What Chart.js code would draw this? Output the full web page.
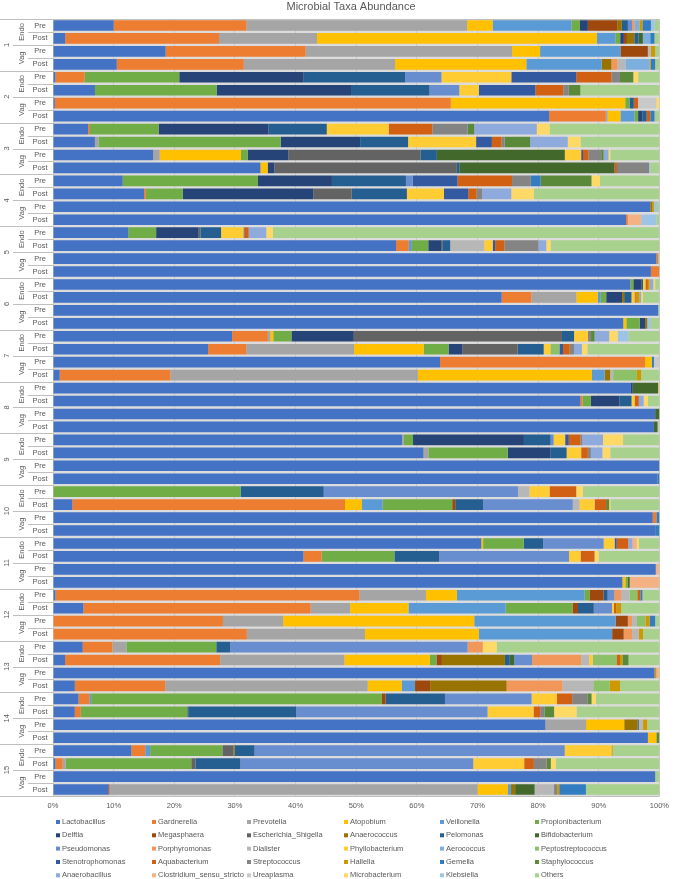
<!DOCTYPE html>
<html>
<head>
<meta charset="utf-8">
<title>Microbial Taxa Abundance</title>
<script src="https://cdn.jsdelivr.net/npm/chart.js@4"></script>
<style>
  html, body { margin: 0; padding: 0; background: #fff; }
  canvas { display: block; }
</style>
</head>
<body>
<canvas id="chart" width="674" height="879"></canvas>
<script>
// category levels (patient > site > time)
const patients = ['1','2','3','4','5','6','7','8','9','10','11','12','13','14','15'];
const sites = ['Endo', 'Vag'];
const times = ['Pre', 'Post'];

// relative abundance (%), 4 bars per patient: Endo Pre, Endo Post, Vag Pre, Vag Post
const lactobacillus = [10,2,18.5,10.5, 0.4,6.9,0.3,81.5, 5.8,6.9,16.5,34.2, 11.5,15,98.4,94.4, 12.4,56.4,99.5,98.6, 95.1,73.8,99.8,93.9, 29.6,25.6,63.6,1.1, 95.3,87,99.3,99.1, 57.6,61.1,100,99.7, 0,3.2,98.9,99.3, 70.7,41.3,99.4,93.9, 0.4,5,0,0, 4.9,2,99.2,3.6, 4.2,3.6,81.2,98.1, 12.9,0.4,99.3,9.2];
const gardnerella = [21.9,25.1,23,20.9, 4.8,0,64.9,9.3, 0.3,0,0,0, 0,0.3,0,0.3, 0,2.1,0.3,1.4, 0,4.9,0,0, 5.9,6.3,33.7,18.2, 0,0.35,0,0, 0,0,0,0, 0,45,0.6,0, 0,3,0,0, 50.2,37.4,28,32, 4.9,25.6,0,14.9, 1.8,1,0,0, 2.3,1.2,0,0.2];
const prevotella = [36.4,16,33.9,24.9, 0,0,0,0.3, 0,0.6,1.1,0, 0,0,0,0, 0,0,0,0, 0,7.4,0,0, 0.4,17.8,0,40.7, 0,0,0,0, 0.3,0.8,0,0, 0,0,0,0, 0,0,0,0, 11,6.5,9.9,19.5, 2.3,20.5,0,33.4, 0,0,6.7,0, 0,0.5,0,60.5];
const atopobium = [4.2,45.7,4.6,21.6, 0,0,28.6,2.1, 0,0,13.4,1.2, 0,0,0,0, 0,0,0,0, 0,3.5,0,0.5, 0.5,11.5,1.1,28.6, 0,0,0,0, 0,0,0,0, 0,2.8,0,0, 0.3,0,0,0.5, 5.1,9.6,31.5,18.8, 0,14.1,0,5.6, 0,0,6.3,1.4, 0,0,0,5];
const veillonella = [13,3,13.2,12.4, 0,0,0,2.3, 0,0,0,0, 0,0,0,0, 0,0.5,0,0, 0,0.5,0,0, 0,0,0,2.1, 0,0,0,0, 0,0,0,0, 0,3.4,0,0, 0,0,0,0, 21.1,16,23.3,22, 0,0,0,2.2, 0.3,0,0,0, 0.8,0,0,0.5];
const propionibacterium = [1.4,0.8,0,0, 15.6,20,0.7,0.6, 11.3,30,1.1,0, 22.3,6.1,0,0, 4.6,2.7,0,0, 0.5,0.9,0,2.2, 3,4.1,0,0, 0,1.4,0,0, 1.5,13.1,0,0, 30.9,11.5,0,0, 6.7,12,0,0.35, 0.8,11,0,0, 14.8,1.1,0,0, 48,17.6,0,0, 11.9,20.7,0,0];
const delftia = [1.3,0.6,0,0, 20.5,22.1,0,0.7, 18.1,13.1,6.7,1.1, 12.2,21.5,0,0, 7,2.1,0,0, 1.3,2.6,0,0.9, 10.3,2.3,0,0, 0.3,4.7,0,0, 18.3,7,0,0, 0,0,0,0, 0,0,0,0, 0,0,0,0, 0,0,0,0, 0,0.2,0,0, 0,0,0,0];
const megasphaera = [4.9,0.5,4.5,0, 0,0,0,0, 0,0,0,0, 0,0,0,0, 0,0,0,0, 0,0,0,0, 0,0,0,0, 0,0,0,0, 0,0,0,0, 0,0.5,0,0, 0,0,0,0, 2.3,0.9,2,1.9, 0,0.9,0,2.5, 0.6,0,0,0, 0,0,0,0];
const escherichia = [0,0,0,0, 0,0,0,0, 0,0,21.8,30.1, 0,6.3,0,0, 0.3,0.2,0,0, 0,0,0,0, 34.4,9.1,0,0, 0,0,0,0, 0,0,0,0, 0,0,0,0, 0,0,0,0, 0,0,0,0, 0,0,0,0, 0,0,0,0, 1.8,0.7,0,0];
const anaerococcus = [0.7,1.2,0,1.6, 0,0,0,0, 0,0,0,0, 0,0,0.3,0, 0,0,0,0, 0,0.35,0,0.35, 0,0,0,0.9, 0,0,0,0, 0,0,0,0, 0,0,0,0, 0,0,0,0, 0,0,0,0, 0,10.4,0,12.6, 0,0,2.2,0, 0.2,0,0,0.7];
const pelomonas = [1,0.7,0,0, 16.7,12.9,0.7,0.7, 9.6,7.9,2.7,0.4, 12.2,9.1,0,0, 3.4,1.3,0,0, 0.3,1.2,0,0, 2,4.3,0,0, 0,2,0,0, 4.4,2.7,0,0, 13.7,4.6,0,0, 3.2,7.4,0,0, 0.7,2.6,0,0, 2.3,0.8,0,0, 9.8,17.8,0.2,0, 3.3,7.4,0,0];
const bifidobacterium = [0,0.7,0,0, 0,0,0,0, 0,0,21.1,25.6, 0,0,0,0, 0,0,0,0, 0,0,0,0, 0,0,0,0, 4.2,0,0.7,0.6, 0,0,0,0, 0,0,0,0, 0,0,0,0.35, 0,0,0,0, 0,0.7,0,0, 0,0,0,0, 0,0,0,3.2];
const pseudomonas = [0.7,0,0,0, 6,4.9,0,0, 0,0,0,0, 1.1,0,0,0, 0,0,0,0, 0,0,0,0, 0,0,0,0, 0,0,0,0, 0.5,0,0,0, 32,14.8,0,0, 10,21.4,0,0, 1.1,3,0,0, 39.1,3,0,0, 14.3,31.6,0,0, 51.1,38.4,0,0];
const porphyromonas = [0.4,0,0,1, 0,0,0,0, 0,0,0,0, 0,0,0,0, 0,0,0,0, 0,0,0,0, 0,0,0,0, 0,0,0,0, 0,0,0,0, 0,0,0,0, 0,0,0,0, 1.1,0,0.7,1.4, 2.5,8.1,0,9.2, 0,0,0,0, 0,0,0,0];
const dialister = [0,0,0.5,1.3, 0,0,0,0, 0,0,0,0, 0,0,0,0, 0,5.6,0,0, 0,0,0,0, 0,0,0,0.5, 0,0,0,0, 0,0,0,0, 1.9,1.1,0,0, 0,0,0,0, 1.4,0,0.8,1.1, 0,1.3,0,5.1, 0,0,0.7,0, 0,0,0,3.2];
const phyllobacterium = [0,0,0,0, 11.5,3.2,0,0, 10.2,11.2,2.7,0, 0,6.1,0,0, 3.7,1.4,0,0, 0.4,0.5,0,0, 2.3,1.1,0,0, 0,0.5,0,0, 1.9,2.4,0,0, 3.3,2.5,0,0, 1.8,1.9,0,0, 0,0.3,0,0, 0,0.6,0,0, 4.2,7.6,0,0, 7.7,8.4,0,0];
const aerococcus = [0.8,1.2,0,4, 0,0,0,0, 0,0,0,0, 0,0,0,0, 0,0,0,0, 0,0,0,0, 0,0,0,0, 0,0,0,0, 0,0,0,0, 0,0,0,0, 0,0,0,0, 0,0,0,0, 0,0,0,0, 0,0,0,0, 0,0,0,0];
const peptostreptococcus = [0,0,0,0, 0,0,0,0, 0,0,0,0, 0,0,0,0, 0,0,0,0, 0,0,0,0, 0,1.5,0,3.9, 0,0,0,0, 0,0,0,0, 0,0,0,0, 0,0,0,0, 1.3,0,1.4,0, 0,4,0,2.7, 0,0,0,0, 0,0,0,0];
const stenotrophomonas = [0,0,0,0, 10.7,9.3,0,0, 0,2.6,0.3,0, 7.4,4,0,0, 0.15,0.4,0,0, 0,0,0,0, 0,0.6,0,0, 0,0,0,0, 0.6,0,0,0, 0,0,0,0, 0.35,0,0,0, 0,0,0,0, 0,0,0,0, 0,0,0,0, 0,0,0,0];
const aquabacterium = [0,0,0,0, 5.8,4.6,0.7,0.6, 7.2,1.6,0.9,0.4, 9,1.4,0,0, 0.7,1.5,0,0, 0.4,0.2,0,0, 0,1.1,0,0, 0,0.7,0,0, 1.9,1.1,0,0, 4.4,1.9,0,0, 1.9,2.3,0,0, 0.5,0.4,0,0, 0,0.5,0,0, 2.5,1.1,0,0, 0,1.6,0,0];
const streptococcus = [0,0,0,0, 1.4,0.9,0,0, 5.8,0.5,2.1,5.3, 3.1,0.9,0,0, 0,5.6,0,0, 0,0,0,0, 0.5,0.7,0,0, 0,0,0,0, 0.35,0.5,0,0, 0,0,0,0, 0,0,0,0, 0,0,0,0, 0,0,0,0, 2.5,0.7,0,0, 0,2.1,0,0.5];
const hallella = [0.5,0,0.7,0.2, 0,0,0,0, 0,0,0,0, 0,0,0.3,0, 0,0,0,0, 0.3,0.6,0,0, 0,0,0,0.7, 0,0,0,0, 0,0,0,0, 0,0,0,0, 0,0,0,0, 0,0.8,0.7,0.7, 0,0.4,0.3,1.7, 0,0,0.7,0, 0.2,0,0,0.35];
const gemella = [1.4,0.7,0,0.7, 0,0,0,0.7, 0,0,0,0, 1.6,0,0,0, 0,0,0,0, 0,0,0,0, 0,0,0.35,0, 0,0,0,0, 0,0,0,0.3, 0,0,0.5,0.7, 0,0,0,0, 0.35,0,0.9,0, 0,0,0,0, 0,0,0,0, 0,0,0,4.4];
const staphylococcus = [0,0,0,0, 2.2,1.9,0,0, 1.1,4.2,0.4,0, 8.4,0,0,0, 0,0,0,0, 0,0,0,0, 0.6,0,0,0, 0,0,0,0, 0,0,0,0, 0,0.5,0,0, 0,0,0,0, 0,0,0,0, 0,1,0,0, 0.7,1.6,0,0.5, 0,0.7,0,0];
const anaerobacillus = [0,0,0,0, 0,0,0,0, 10.3,6.2,0.8,0, 0,4.8,0,0, 2.9,1.3,0,0, 0.6,0.3,0,0, 2.4,1.3,0,0, 0,0.8,0,0, 3.4,1.9,0,0, 0,0,0,0, 0.7,0,0,0, 0,0,0,0, 0,0,0,0, 0,0,0,0, 0,0,0,0];
const clostridium = [0,0,0,0, 0,0,0,0, 0,0,0,0, 0,0,0,2.2, 0,0,0,0, 0,0,0,0, 0,0,0,0, 0,0,0,0, 0,0,0,0, 0,0,0,0, 0.7,0,0.6,4.9, 0,0,0,0, 0,0,0.5,0, 0,0,0,0, 0,0,0,0];
const ureaplasma = [0,0,0,0, 0,0,3,0, 0,0,0,0, 0,0,0,0, 0,0,0,0, 0,0,0,0, 0,0,0.9,0, 0,0,0,0.3, 0,0,0,0, 0,0,0,0, 0,0,0,0, 0,0,0,0, 0,0,0,0, 0,0,0,0, 0,0,0,0];
const microbacterium = [0,0,0,0, 0.8,0,0.5,0, 2.1,2.1,0.3,0, 1.4,3.7,0,0, 1.1,0.7,0,0, 0.3,0.3,0,0, 1.4,0.9,0,0, 0.2,0.7,0,0, 3.3,1.3,0,0, 1.1,0.2,0,0, 0.35,0.7,0,0, 0,0,0,0, 2.3,0,0,0, 0.7,3.7,0,0, 0,0.8,0,0];
const klebsiella = [0.6,0,0,0, 0,0,0,0, 0,0,0,0.2, 0,0,0.5,2.5, 0,0,0,0, 0,0,0,0.6, 1.8,0,0,0, 0,0,0,0, 0,0,0,0, 0,0,0,0, 0,0,0,0, 0,0,0,0, 0,0,0,0, 0,0,0,0, 0,0,0,0];
const others = [0.8,0.8,0.7,0.7, 3.5,13,0,0.8, 18.1,13,8.1,1.5, 9.8,20.7,0.4,0.5, 63.7,17.9,0.2,0, 0.7,2.7,0.2,1.4, 5.1,11.9,0,3, 0,1.9,0,0, 6,8.1,0,0, 12.6,8.1,0,0, 3.4,10,0,0, 2.8,6.3,0.7,2.7, 26.8,5.1,0,6.5, 10.5,13.7,2,0, 7.7,17.1,0.7,12.1];

const taxa = [
  ['Lactobacillus', lactobacillus, '#4472C4'],
  ['Gardnerella', gardnerella, '#ED7D31'],
  ['Prevotella', prevotella, '#A5A5A5'],
  ['Atopobium', atopobium, '#FFC000'],
  ['Veillonella', veillonella, '#5B9BD5'],
  ['Propionibacterium', propionibacterium, '#70AD47'],
  ['Delftia', delftia, '#264478'],
  ['Megasphaera', megasphaera, '#9E480E'],
  ['Escherichia_Shigella', escherichia, '#636363'],
  ['Anaerococcus', anaerococcus, '#997300'],
  ['Pelomonas', pelomonas, '#255E91'],
  ['Bifidobacterium', bifidobacterium, '#43682B'],
  ['Pseudomonas', pseudomonas, '#698ED0'],
  ['Porphyromonas', porphyromonas, '#F1975A'],
  ['Dialister', dialister, '#B7B7B7'],
  ['Phyllobacterium', phyllobacterium, '#FFCD33'],
  ['Aerococcus', aerococcus, '#7CAFDD'],
  ['Peptostreptococcus', peptostreptococcus, '#8CC168'],
  ['Stenotrophomonas', stenotrophomonas, '#335AA1'],
  ['Aquabacterium', aquabacterium, '#D26012'],
  ['Streptococcus', streptococcus, '#848484'],
  ['Hallella', hallella, '#CC9A00'],
  ['Gemella', gemella, '#327DC2'],
  ['Staphylococcus', staphylococcus, '#5A8A39'],
  ['Anaerobacillus', anaerobacillus, '#8FAADC'],
  ['Clostridium_sensu_stricto', clostridium, '#F4B183'],
  ['Ureaplasma', ureaplasma, '#C9C9C9'],
  ['Microbacterium', microbacterium, '#FFD966'],
  ['Klebsiella', klebsiella, '#9DC3E6'],
  ['Others', others, '#A9D18E']
];

// one category per bar
const categories = [];
patients.forEach(p => sites.forEach(s => times.forEach(t => categories.push(p + ' ' + s + ' ' + t))));

// scale every bar to 100%
const totals = categories.map((c, i) => taxa.reduce((sum, t) => sum + t[1][i], 0));
const datasets = taxa.map(([name, values, color]) => ({
  label: name,
  data: values.map((v, i) => v / totals[i] * 100),
  backgroundColor: color,
  borderWidth: 0,
  barPercentage: 0.82,
  categoryPercentage: 1
}));

const FONT = '"Liberation Sans", Arial, sans-serif';
const TEXT = '#595959';
const LINE = '#bfbfbf';

// title, nested category labels, separators and legend
const decorations = {
  id: 'decorations',
  beforeDraw(chart) {
    const { ctx, chartArea: a } = chart;
    ctx.save();
    ctx.fillStyle = '#dcdcdc';
    ctx.fillRect(a.left, a.top, a.right - a.left, a.bottom - a.top);
    ctx.restore();
  },
  afterDraw(chart) {
    const { ctx, chartArea: a } = chart;
    const y = chart.scales.y;
    const step = y.getPixelForValue(1) - y.getPixelForValue(0);
    const edge = i => Math.round(y.getPixelForValue(i) - step / 2) + 0.5;

    ctx.save();
    ctx.fillStyle = TEXT;
    ctx.font = '11px ' + FONT;
    ctx.textAlign = 'center';
    ctx.textBaseline = 'middle';
    ctx.fillText('Microbial Taxa Abundance', 351, 7);

    ctx.strokeStyle = LINE;
    ctx.lineWidth = 1;
    const hline = (x0, yy) => { ctx.beginPath(); ctx.moveTo(x0, yy); ctx.lineTo(a.left, yy); ctx.stroke(); };
    ctx.beginPath(); ctx.moveTo(0, edge(0)); ctx.lineTo(a.right, edge(0)); ctx.stroke();
    ctx.beginPath(); ctx.moveTo(0, edge(categories.length)); ctx.lineTo(a.right, edge(categories.length)); ctx.stroke();

    ctx.font = '7.5px ' + FONT;
    categories.forEach((c, i) => {
      ctx.fillText(times[i % 2], 40, y.getPixelForValue(i));
      if (i === 0) return;
      if (i % 4 === 0) hline(0, edge(i));
      else if (i % 2 === 0) hline(13, edge(i));
      else hline(28, edge(i));
    });

    // rotated site and patient labels
    const rotated = (text, x, yy) => {
      ctx.save();
      ctx.translate(x, yy);
      ctx.rotate(-Math.PI / 2);
      ctx.fillText(text, 0, 0);
      ctx.restore();
    };
    patients.forEach((p, pi) => {
      const first = pi * 4;
      rotated(p, 7, (y.getPixelForValue(first) + y.getPixelForValue(first + 3)) / 2);
      sites.forEach((s, si) => {
        const k = first + si * 2;
        rotated(s, 22, (y.getPixelForValue(k) + y.getPixelForValue(k + 1)) / 2);
      });
    });

    // legend: 6 columns x 5 rows
    const colX = [56, 152, 247, 344, 440, 535];
    const rowY = [822, 835.3, 848.6, 862, 875.3];
    ctx.textAlign = 'left';
    chart.data.datasets.forEach((ds, i) => {
      const x = colX[i % 6], yy = rowY[Math.floor(i / 6)];
      ctx.fillStyle = ds.backgroundColor;
      ctx.fillRect(x, yy - 2, 4, 4);
      ctx.fillStyle = TEXT;
      ctx.fillText(ds.label, x + 6, yy);
    });
    ctx.restore();
  }
};

new Chart(document.getElementById('chart'), {
  type: 'bar',
  data: { labels: categories, datasets },
  options: {
    indexAxis: 'y',
    responsive: false,
    animation: false,
    devicePixelRatio: 1,
    layout: { padding: { left: 53, right: 10, top: 19, bottom: 63 } },
    plugins: {
      legend: { display: false },
      title: { display: false },
      tooltip: { enabled: false }
    },
    scales: {
      x: {
        stacked: true,
        min: 0,
        max: 100,
        ticks: {
          stepSize: 10,
          padding: 5,
          color: TEXT,
          font: { family: FONT, size: 7.5 },
          callback: v => v + '%'
        },
        grid: { color: '#c8c8c8', drawTicks: false },
        border: { display: false },
        afterFit: s => { s.height = 20; }
      },
      y: {
        stacked: true,
        display: false
      }
    }
  },
  plugins: [decorations]
});
</script>
</body>
</html>
